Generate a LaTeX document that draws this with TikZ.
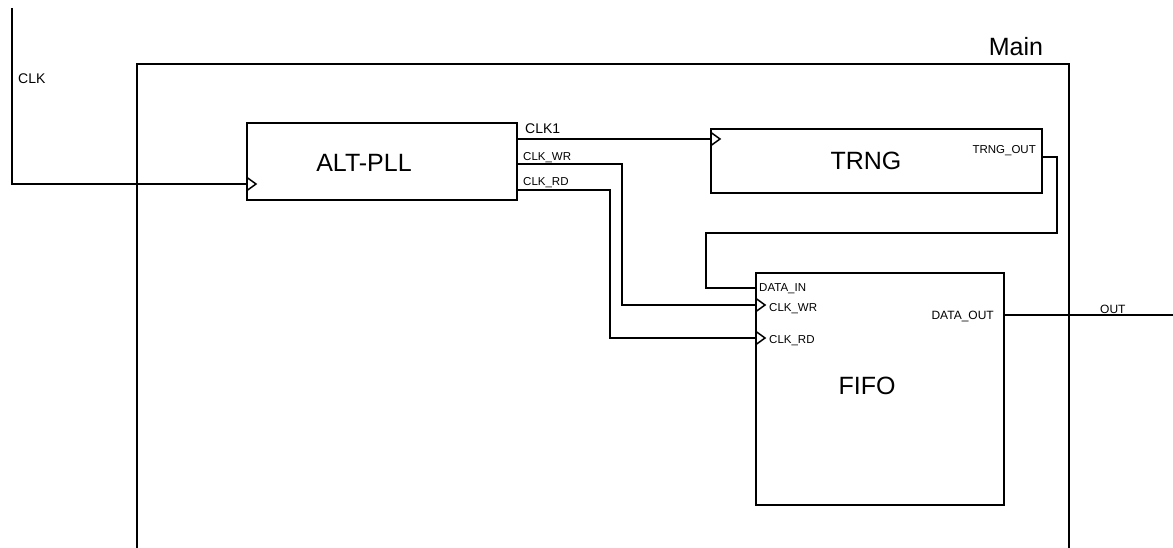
\documentclass[tikz,border=0pt]{standalone}
\usepackage{fontspec}
\setmainfont{Liberation Sans}
\usetikzlibrary{positioning,calc}

\begin{document}
\begin{tikzpicture}[
  x=1pt, y=-1pt,
  wire/.style={line width=1.9pt},
  block/.style={rectangle, draw, line width=1.9pt, anchor=north west, inner sep=0pt, outer sep=0pt},
  title/.style={font=\fontsize{25}{25}\selectfont, inner sep=0pt, anchor=base},
  port/.style={font=\fontsize{11.5}{11.5}\selectfont, inner sep=0pt, anchor=base west},
  sig/.style={font=\fontsize{14}{14}\selectfont, inner sep=0pt, anchor=base west},
  clkmark/.pic={\draw[line width=1.5pt] (0,-6.5) -- (9,0) -- (0,6.5);}
]
  \useasboundingbox (0,0) rectangle (1173,548);

  % top level frame
  \draw[wire] (137,548) |- (1069,64) -- (1069,548);
  \node[title] (mainlbl) at (1016,56) {Main};

  % blocks
  \node[block, minimum width=270pt, minimum height=77pt] (pll) at (247,123) {};
  \node[block, minimum width=331pt, minimum height=64pt] (trng) at (711,129) {};
  \node[block, minimum width=248pt, minimum height=232pt] (fifo) at (756,273) {};
  \node[title] (pllname) at (364,172) {ALT-PLL};
  \node[title] (trngname) at (866,170) {TRNG};
  \node[title] (fifoname) at (867,394) {FIFO};

  % ports
  \coordinate (clkin) at (12,8);
  \coordinate (pll-in) at (247,184);
  \coordinate (pll-clk1) at (517,139);
  \coordinate (pll-wr) at (517,164);
  \coordinate (pll-rd) at (517,190);
  \coordinate (trng-clk) at (711,139);
  \coordinate (trng-out) at (1042,157);
  \coordinate (fifo-in) at (756,288);
  \coordinate (fifo-wr) at (756,305);
  \coordinate (fifo-rd) at (756,338);
  \coordinate (fifo-out) at (1004,315);
  \coordinate (out) at (1173,315);
  \coordinate (fb-r) at (1057,233);
  \coordinate (fb-l) at (706,233);

  % wires
  \draw[wire] (clkin) |- (pll-in);
  \draw[wire] (pll-clk1) -- (trng-clk);
  \draw[wire] (pll-wr) -| ([xshift=-134pt]fifo-wr) -- (fifo-wr);
  \draw[wire] (pll-rd) -| ([xshift=-146pt]fifo-rd) -- (fifo-rd);
  \draw[wire] (trng-out) -| (fb-r) -- (fb-l) |- (fifo-in);
  \draw[wire] (fifo-out) -- (out);

  % clock inputs
  \pic at (pll-in) {clkmark};
  \pic at (trng-clk) {clkmark};
  \pic at (fifo-wr) {clkmark};
  \pic at (fifo-rd) {clkmark};

  % labels
  \node[sig] (clklbl) at (18,84) {CLK};
  \node[sig] (clk1lbl) at (525,134) {CLK1};
  \node[port] (wrlbl) at (523,161) {CLK\_WR};
  \node[port] (rdlbl) at (523,186) {CLK\_RD};
  \node[port, anchor=base east] (trngoutlbl) at (1036,154) {TRNG\_OUT};
  \node[port] (dinlbl) at (759,291) {DATA\_IN};
  \node[port] (fwrlbl) at (769,311) {CLK\_WR};
  \node[port] (frdlbl) at (769,343) {CLK\_RD};
  \node[port, font=\fontsize{12}{12}\selectfont, anchor=base east] (doutlbl) at (994,319) {DATA\_OUT};
  \node[port, font=\fontsize{12}{12}\selectfont] (outlbl) at (1100,313) {OUT};
\end{tikzpicture}
\end{document}
